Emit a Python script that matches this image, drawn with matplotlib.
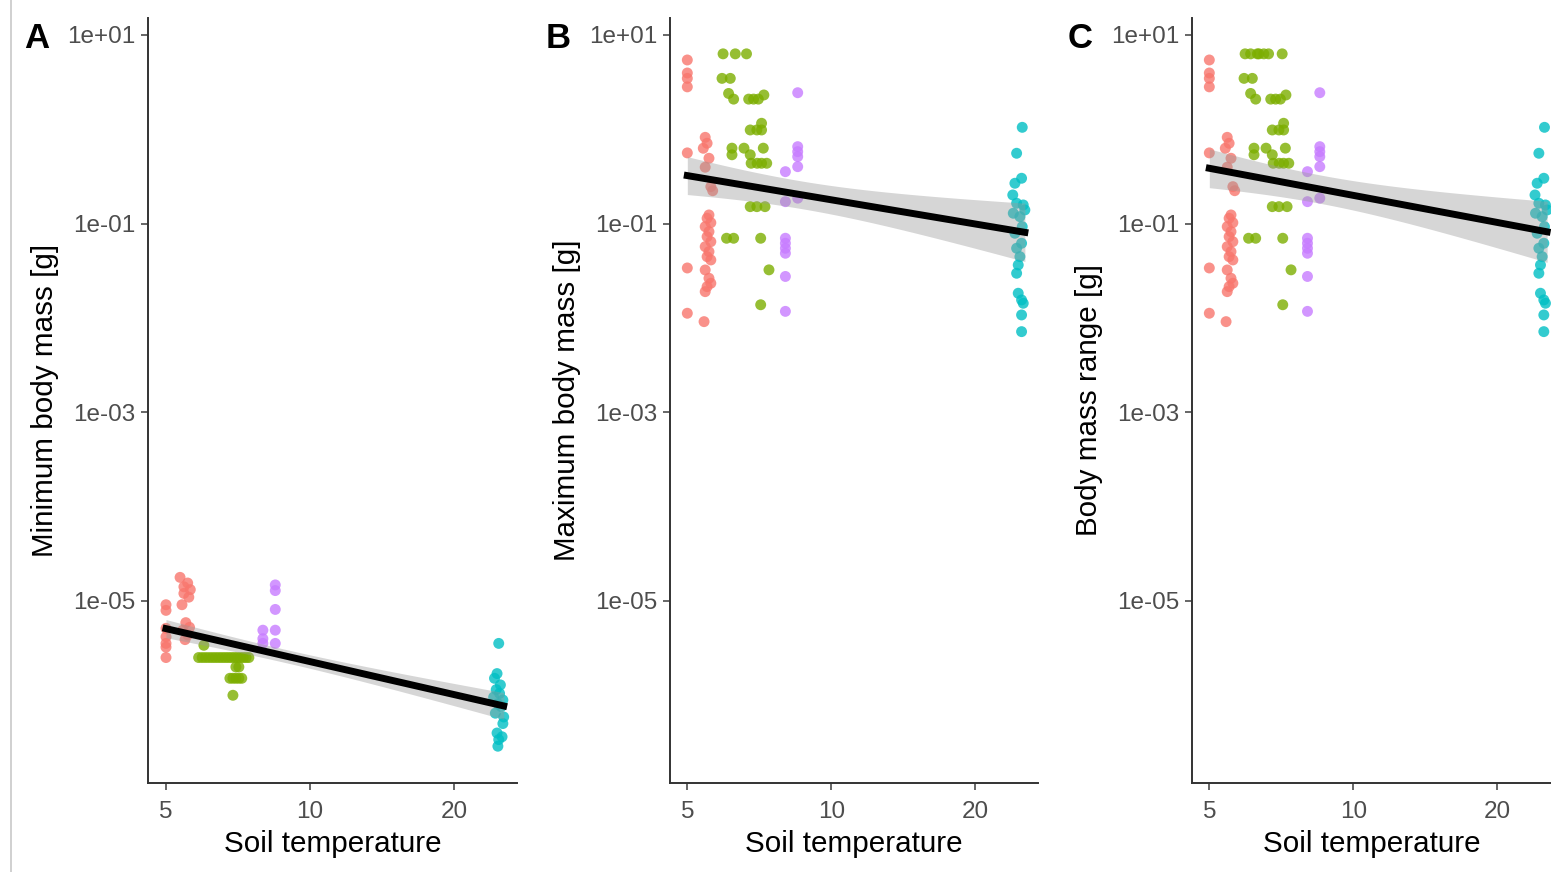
import numpy as np
import matplotlib
matplotlib.use("Agg")
import matplotlib.pyplot as plt
from matplotlib.lines import Line2D

plt.rcParams['font.family'] = ['Liberation Sans', 'DejaVu Sans']

# groups: r = red, g = green, p = purple, c = cyan
colors = {'r': '#F8766D', 'g': '#7CAE00', 'p': '#C77CFF', 'c': '#00BFC4'}

# ---- panel A: minimum body mass (log10 g) ----
a_temp = ([5.0] * 7
          + [5.35, 5.55, 5.45, 5.62, 5.45, 5.58, 5.40, 5.50, 5.60, 5.42, 5.55, 5.48]
          + [5.85, 5.95, 6.05, 6.15, 6.25, 6.35, 6.45, 6.55, 6.65, 6.75, 6.85, 6.95,
             7.05, 7.15, 7.25, 7.35, 7.45, 6.0, 7.0, 7.1, 6.8, 6.9, 7.0, 7.1, 7.2, 6.9]
          + [7.97, 7.97, 7.97, 8.46, 8.46, 8.46, 8.46, 8.46]
          + [24.8, 24.6, 24.3, 25.0, 24.5, 24.9, 24.2, 25.3, 24.7, 25.1, 24.4, 25.4,
             25.3, 24.6, 25.2, 24.8, 24.7])
a_mass = ([-5.04, -5.10, -5.29, -5.38, -5.45, -5.49, -5.60]
          + [-4.75, -4.81, -4.85, -4.88, -4.92, -4.96, -5.04, -5.23, -5.28, -5.31, -5.36, -5.41]
          + [-5.60] * 17 + [-5.47, -5.70, -5.70, -5.82, -5.82, -5.82, -5.82, -5.82, -6.00]
          + [-5.31, -5.40, -5.45, -4.83, -4.89, -5.09, -5.31, -5.45]
          + [-5.45, -5.77, -5.82, -5.89, -5.94, -5.98, -6.02, -6.05, -6.09, -6.12,
             -6.19, -6.23, -6.30, -6.40, -6.44, -6.47, -6.54])
a_group = ['r'] * 19 + ['g'] * 26 + ['p'] * 8 + ['c'] * 17

# ---- panel B: maximum body mass (log10 g) ----
b_temp = ([5.0] * 7
          + [5.45, 5.50, 5.40, 5.55, 5.45, 5.60, 5.65, 5.55, 5.50, 5.60, 5.45, 5.55,
             5.50, 5.60, 5.45, 5.55, 5.50, 5.60, 5.45, 5.55, 5.60, 5.50, 5.45, 5.42]
          + [5.94, 6.30, 6.65, 5.91, 6.15, 6.10, 6.25, 6.72, 6.88, 7.04, 7.23, 7.15,
             6.77, 6.99, 7.15, 6.20, 6.57, 7.21, 6.20, 6.77, 6.80, 7.00, 7.15, 7.33,
             6.77, 6.99, 7.27, 6.04, 6.25, 7.12, 7.41, 7.12]
          + [8.02] * 8 + [8.51] * 6
          + [25.10, 24.43, 25.02, 24.23, 23.98, 24.43, 25.22, 25.42, 24.04, 24.82, 25.10,
             24.23, 25.02, 24.43, 24.82, 24.62, 24.43, 24.62, 25.02, 25.22, 25.02, 25.02])
b_mass = ([0.735, 0.597, 0.54, 0.45, -0.25, -1.47, -1.95]
          + [-0.085, -0.148, -0.201, -0.307, -0.402, -0.608, -0.651, -0.908, -0.943, -0.990,
             -1.032, -1.085, -1.138, -1.191, -1.244, -1.297, -1.350, -1.385, -1.491, -1.579,
             -1.632, -1.668, -1.721, -2.039]
          + [0.80, 0.80, 0.80, 0.54, 0.54, 0.38, 0.32, 0.32, 0.32, 0.32, 0.364, 0.064,
             -0.007, -0.007, -0.007, -0.20, -0.20, -0.20, -0.27, -0.27, -0.36, -0.36, -0.36, -0.36,
             -0.82, -0.82, -0.82, -1.155, -1.155, -1.155, -1.49, -1.86]
          + [-0.449, -0.767, -1.155, -1.208, -1.261, -1.314, -1.56, -1.93]
          + [0.388, -0.184, -0.237, -0.29, -0.396, -0.73]
          + [0.021, -0.254, -0.519, -0.572, -0.696, -0.784, -0.802, -0.855, -0.890, -0.926,
             -1.032, -1.102, -1.208, -1.261, -1.350, -1.438, -1.526, -1.738, -1.809, -1.844,
             -1.968, -2.145])
b_group = ['r'] * 31 + ['g'] * 32 + ['p'] * 14 + ['c'] * 22

# ---- panel C: body mass range (log10 g), nearly the same as maximum ----
c_temp = b_temp + [6.10, 6.35, 6.50, 7.10]
c_mass = b_mass + [0.80, 0.80, 0.80, 0.80]
c_group = b_group + ['g'] * 4

panels = [
    ('A', 'Minimum body mass [g]', a_temp, a_mass, a_group, 148, 517, 4.585, 27.08),
    ('B', 'Maximum body mass [g]', b_temp, b_mass, b_group, 670, 1038, 4.60, 27.08),
    ('C', 'Body mass range [g]', c_temp, c_mass, c_group, 1192, 1551, 4.60, 25.9),
]

W, H = 1551, 872
fig = plt.figure(figsize=(W / 100, H / 100), dpi=100)
fig.add_artist(Line2D([11 / W, 11 / W], [0, 1], color='#c8c8c8', lw=1.2))

for letter, ylab, temp, mass, group, x0, x1, tmin, tmax in panels:
    ax = fig.add_axes([x0 / W, (H - 783) / H, (x1 - x0) / W, (783 - 18) / H])
    t = np.array(temp)
    m = np.array(mass)
    for g in ['r', 'g', 'p', 'c']:
        sel = np.array(group) == g
        ax.scatter(t[sel], 10 ** m[sel], s=62, color=colors[g], alpha=0.8,
                   edgecolors='none', zorder=2)

    # linear model on log-log scale with 95% band
    lx = np.log10(t)
    n = len(lx)
    slope, icpt = np.polyfit(lx, m, 1)
    resid = m - (icpt + slope * lx)
    s = np.sqrt(np.sum(resid ** 2) / (n - 2))
    xs = np.linspace(lx.min(), lx.max(), 100)
    se = s * np.sqrt(1 / n + (xs - lx.mean()) ** 2 / np.sum((lx - lx.mean()) ** 2))
    fit = icpt + slope * xs
    ax.fill_between(10 ** xs, 10 ** (fit - 1.98 * se), 10 ** (fit + 1.98 * se),
                    color='#999999', alpha=0.4, lw=0, zorder=3)
    ax.plot(10 ** xs, 10 ** fit, color='black', lw=5, zorder=4)

    ax.set_xscale('log')
    ax.set_yscale('log')
    ax.set_xlim(tmin, tmax)
    ax.set_ylim(10 ** -6.93, 10 ** 1.18)
    ax.set_xticks([5, 10, 20])
    ax.set_xticklabels(['5', '10', '20'])
    ax.set_yticks([1e1, 1e-1, 1e-3, 1e-5])
    ax.set_yticklabels(['1e+01', '1e-01', '1e-03', '1e-05'])
    ax.minorticks_off()
    ax.tick_params(labelsize=17.5, colors='#4d4d4d', length=5, width=1.2)
    ax.tick_params(axis='x', pad=8)
    ax.tick_params(axis='y', pad=4)
    for side in ['top', 'right']:
        ax.spines[side].set_visible(False)
    for side in ['left', 'bottom']:
        ax.spines[side].set_linewidth(1.4)
        ax.spines[side].set_color('#333333')
    ax.set_xlabel('Soil temperature', fontsize=21.3, labelpad=5)
    ax.set_ylabel(ylab, fontsize=21.3, labelpad=6)
    fig.text((x0 - 124) / W, 1 - 38 / H, letter, fontsize=25, fontweight='bold',
             va='center', ha='left')

fig.savefig('out.png', dpi=100)
